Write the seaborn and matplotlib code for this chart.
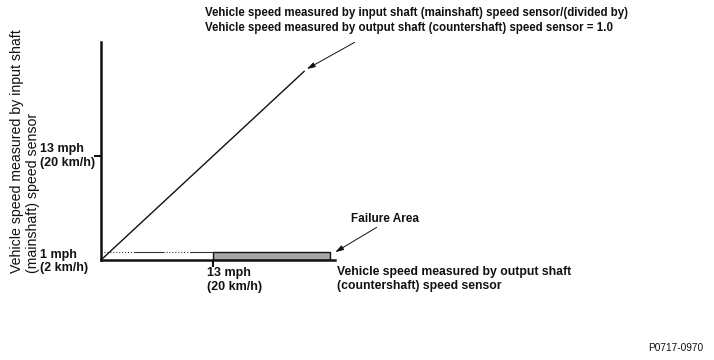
import matplotlib
matplotlib.use("Agg")
import matplotlib.pyplot as plt
import seaborn as sns

# values (mph)
ratio_x = [0, 23.6]
ratio_y = [0, 23.6]
low_limit = 1.0
speed_limit = 13.0
failure_x = [13.0, 26.6]
low_line_edges = [0.0, 3.9, 7.2, 10.3, 13.0]
low_line_styles = [":", "-", ":", "-"]

y_tick_labels = {13: "13 mph\n(20 km/h)", 1: "1 mph\n(2 km/h)"}
x_tick_label = "13 mph\n(20 km/h)"
x_title = "Vehicle speed measured by output shaft\n(countershaft) speed sensor"
y_title = "Vehicle speed measured by input shaft\n(mainshaft) speed sensor"
top_note = ("Vehicle speed measured by input shaft (mainshaft) speed sensor/(divided by)\n"
            "Vehicle speed measured by output shaft (countershaft) speed sensor = 1.0")
failure_note = "Failure Area"
code_note = "P0717-0970"

sns.set_style("white")
plt.rcParams["font.family"] = ["Liberation Sans", "DejaVu Sans"]
ink = "#111111"

fig = plt.figure(figsize=(7.14, 3.6), dpi=100)
ax = fig.add_axes([101 / 714, 100 / 360, 234 / 714, 218 / 360])
ax.set_xlim(0, 27.16)
ax.set_ylim(0, 27.25)

# ratio = 1.0 line
sns.lineplot(x=ratio_x, y=ratio_y, ax=ax, color=ink, lw=1.0)

# 1 mph threshold line up to 13 mph
for x0, x1, ls in zip(low_line_edges[:-1], low_line_edges[1:], low_line_styles):
    ax.plot([x0, x1], [low_limit, low_limit], color="#333333", lw=0.8, ls=ls)

# failure area
ax.fill_between(failure_x, 0, low_limit, facecolor="#a3a6ab", edgecolor=ink, lw=1.0)

for side in ["top", "right"]:
    ax.spines[side].set_visible(False)
for side in ["left", "bottom"]:
    ax.spines[side].set_linewidth(1.8)
    ax.spines[side].set_color(ink)

ax.set_xticks([speed_limit], [""])
ax.set_yticks([speed_limit], [""])
ax.tick_params(axis="both", direction="out", length=5, width=1.5, color=ink,
               left=True, bottom=True)

lab_kw = dict(fontsize=9, fontweight="bold", color=ink, linespacing=1.2)
ylab_tr = ax.get_yaxis_transform()
ax.text(-61 / 234, 13, y_tick_labels[13], transform=ylab_tr, ha="left", va="center", **lab_kw)
ax.text(-61 / 234, -0.2, y_tick_labels[1], transform=ylab_tr, ha="left", va="center", **lab_kw)
ax.text(12.3, -0.9, x_tick_label, ha="left", va="top", **lab_kw)
ax.text(236 / 234, -6 / 218, x_title, transform=ax.transAxes, ha="left", va="top",
        fontsize=8.8, fontweight="bold", color=ink, linespacing=1.2)
fig.text(25 / 714, 1 - 273 / 360, y_title, rotation=90, ha="center", va="bottom",
         multialignment="left", fontsize=10.2, color=ink, linespacing=1.25)
fig.text(205 / 714, 1 - 7 / 360, top_note, ha="left", va="top",
         fontsize=8.3, fontweight="bold", color=ink, linespacing=1.3)

ax.annotate("", xy=(23.6, 23.7), xycoords="data",
            xytext=(357 / 714, 1 - 41 / 360), textcoords="figure fraction",
            arrowprops=dict(arrowstyle="-|>,head_length=0.5,head_width=0.15", color=ink, lw=0.7))
ax.annotate("", xy=(26.9, 0.8), xycoords="data",
            xytext=(379 / 714, 1 - 226 / 360), textcoords="figure fraction",
            arrowprops=dict(arrowstyle="-|>,head_length=0.5,head_width=0.15", color=ink, lw=0.7))
fig.text(351 / 714, 1 - 219 / 360, failure_note, ha="left", va="center",
         fontsize=8.5, fontweight="bold", color=ink)
fig.text(703 / 714, 1 - 348 / 360, code_note, ha="right", va="center", fontsize=7.3, color=ink)

fig.savefig("out.png", dpi=100)
